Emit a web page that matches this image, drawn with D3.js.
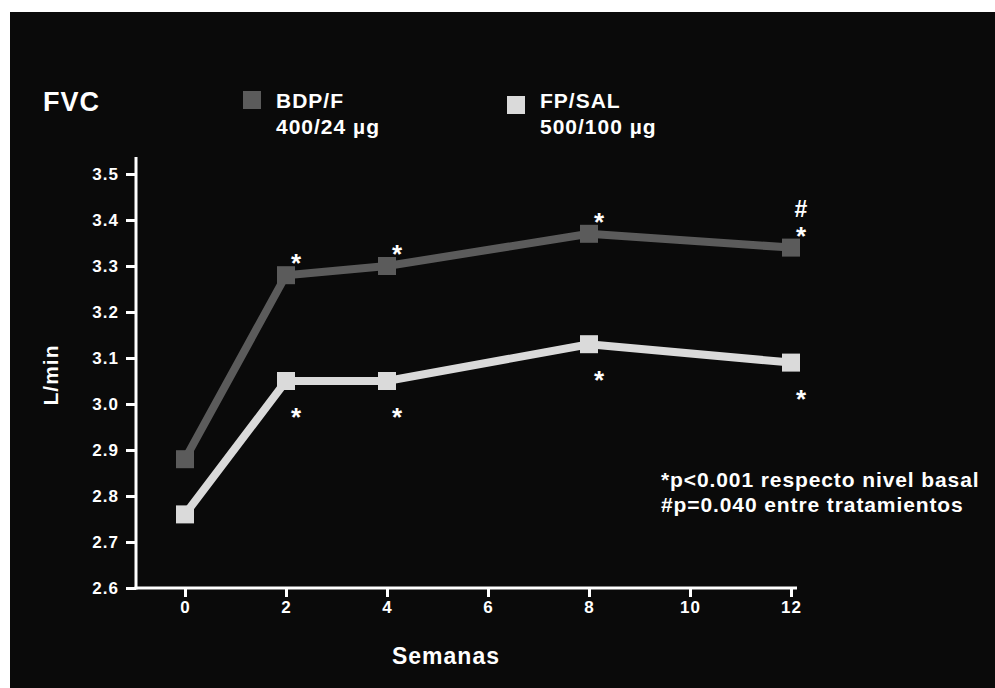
<!DOCTYPE html>
<html><head><meta charset="utf-8">
<script src="https://cdn.jsdelivr.net/npm/d3@7"></script>
<style>body{margin:0;background:#fff}svg{display:block}</style>
</head><body>
<script>
const weeks = [0, 2, 4, 8, 12];
const bdpF = [2.88, 3.28, 3.30, 3.37, 3.34];
const fpSal = [2.76, 3.05, 3.05, 3.13, 3.09];
const xTicks = [0, 2, 4, 6, 8, 10, 12];
const yTicks = [2.6, 2.7, 2.8, 2.9, 3.0, 3.1, 3.2, 3.3, 3.4, 3.5];
const seriesNames = [["BDP/F", "400/24 µg"], ["FP/SAL", "500/100 µg"]];
const bdpMarks = [null, "*", "*", "*", "*"];
const fpMarks = [null, "*", "*", "*", "*"];
const hashMark = [null, null, null, null, "#"];
const notes = ["*p<0.001 respecto nivel basal", "#p=0.040 entre tratamientos"];

const W = 995, H = 688;
const font = "'Liberation Sans', Arial, sans-serif";
const svg = d3.select("body").append("svg").attr("width", W).attr("height", H);
svg.append("rect").attr("x", 10).attr("y", 12).attr("width", W - 10).attr("height", H - 12).attr("fill", "#0a0a0a");

const x = d3.scaleLinear().domain([0, 12]).range([185, 791]);
const y = d3.scaleLinear().domain([2.6, 3.5]).range([588, 174]);
const colors = ["#5b5b5b", "#dadada"];

// axes
const yAxis = svg.append("g").attr("transform", "translate(136,0)")
  .call(d3.axisLeft(y).tickValues(yTicks).tickFormat(d3.format(".1f")).tickSize(10).tickPadding(7));
const xAxis = svg.append("g").attr("transform", "translate(0,588)")
  .call(d3.axisBottom(x).tickValues(xTicks).tickFormat(d3.format("d")).tickSize(9).tickPadding(4));
[yAxis, xAxis].forEach(g => {
  g.select(".domain").remove();
  g.selectAll("line").attr("stroke", "#fff").attr("stroke-width", 3);
  g.selectAll("text").attr("fill", "#fff").attr("font-family", font).attr("font-weight", "bold")
    .attr("font-size", 17).attr("letter-spacing", 1);
});
svg.append("line").attr("x1", 136).attr("x2", 136).attr("y1", 157).attr("y2", 589.5).attr("stroke", "#fff").attr("stroke-width", 3);
svg.append("line").attr("x1", 134.5).attr("x2", 797).attr("y1", 588).attr("y2", 588).attr("stroke", "#fff").attr("stroke-width", 3);

// lines and markers
const line = d3.line().x(d => x(d[0])).y(d => y(d[1]));
[bdpF, fpSal].forEach((vals, i) => {
  const pts = weeks.map((w, j) => [w, vals[j]]);
  svg.append("path").attr("d", line(pts)).attr("fill", "none").attr("stroke", colors[i]).attr("stroke-width", 8).attr("stroke-linejoin", "miter");
  svg.selectAll(null).data(pts).enter().append("rect")
    .attr("x", d => x(d[0]) - 9).attr("y", d => y(d[1]) - 9).attr("width", 18).attr("height", 18).attr("fill", colors[i]);
});

// significance marks
function marks(vals, labels, dy, size) {
  weeks.forEach((w, j) => {
    if (!labels[j]) return;
    svg.append("text").attr("x", x(w) + 10).attr("y", y(vals[j]) + dy)
      .attr("text-anchor", "middle").attr("fill", "#fff").attr("font-family", font)
      .attr("font-weight", "bold").attr("font-size", size).text(labels[j]);
  });
}
marks(bdpF, bdpMarks, -3, 26);
marks(fpSal, fpMarks, 45, 26);
marks(bdpF, hashMark, -31, 23);

// titles
const txt = (t, xx, yy, size, anchor) => svg.append("text").attr("x", xx).attr("y", yy).attr("fill", "#fff")
  .attr("font-family", font).attr("font-weight", "bold").attr("font-size", size).attr("letter-spacing", 1)
  .attr("text-anchor", anchor || "start").text(t);
txt("FVC", 43, 111, 27);
txt("Semanas", 446, 664, 23, "middle");
svg.append("text").attr("transform", "translate(58,375) rotate(-90)").attr("fill", "#fff").attr("font-family", font)
  .attr("font-weight", "bold").attr("font-size", 21).attr("letter-spacing", 1).attr("text-anchor", "middle").text("L/min");

// legend
const legX = [243, 507], legY = [91, 96];
seriesNames.forEach((n, i) => {
  svg.append("rect").attr("x", legX[i]).attr("y", legY[i]).attr("width", 18).attr("height", 18).attr("fill", colors[i]);
  txt(n[0], legX[i] + 33, 108, 21);
  txt(n[1], legX[i] + 33, 134, 21);
});

// notes
notes.forEach((n, i) => svg.append("text").attr("x", 661).attr("y", 487 + i * 25).attr("fill", "#fff")
  .attr("font-family", font).attr("font-weight", "bold").attr("font-size", 21).attr("letter-spacing", 0.9).text(n));
</script>
</body></html>
